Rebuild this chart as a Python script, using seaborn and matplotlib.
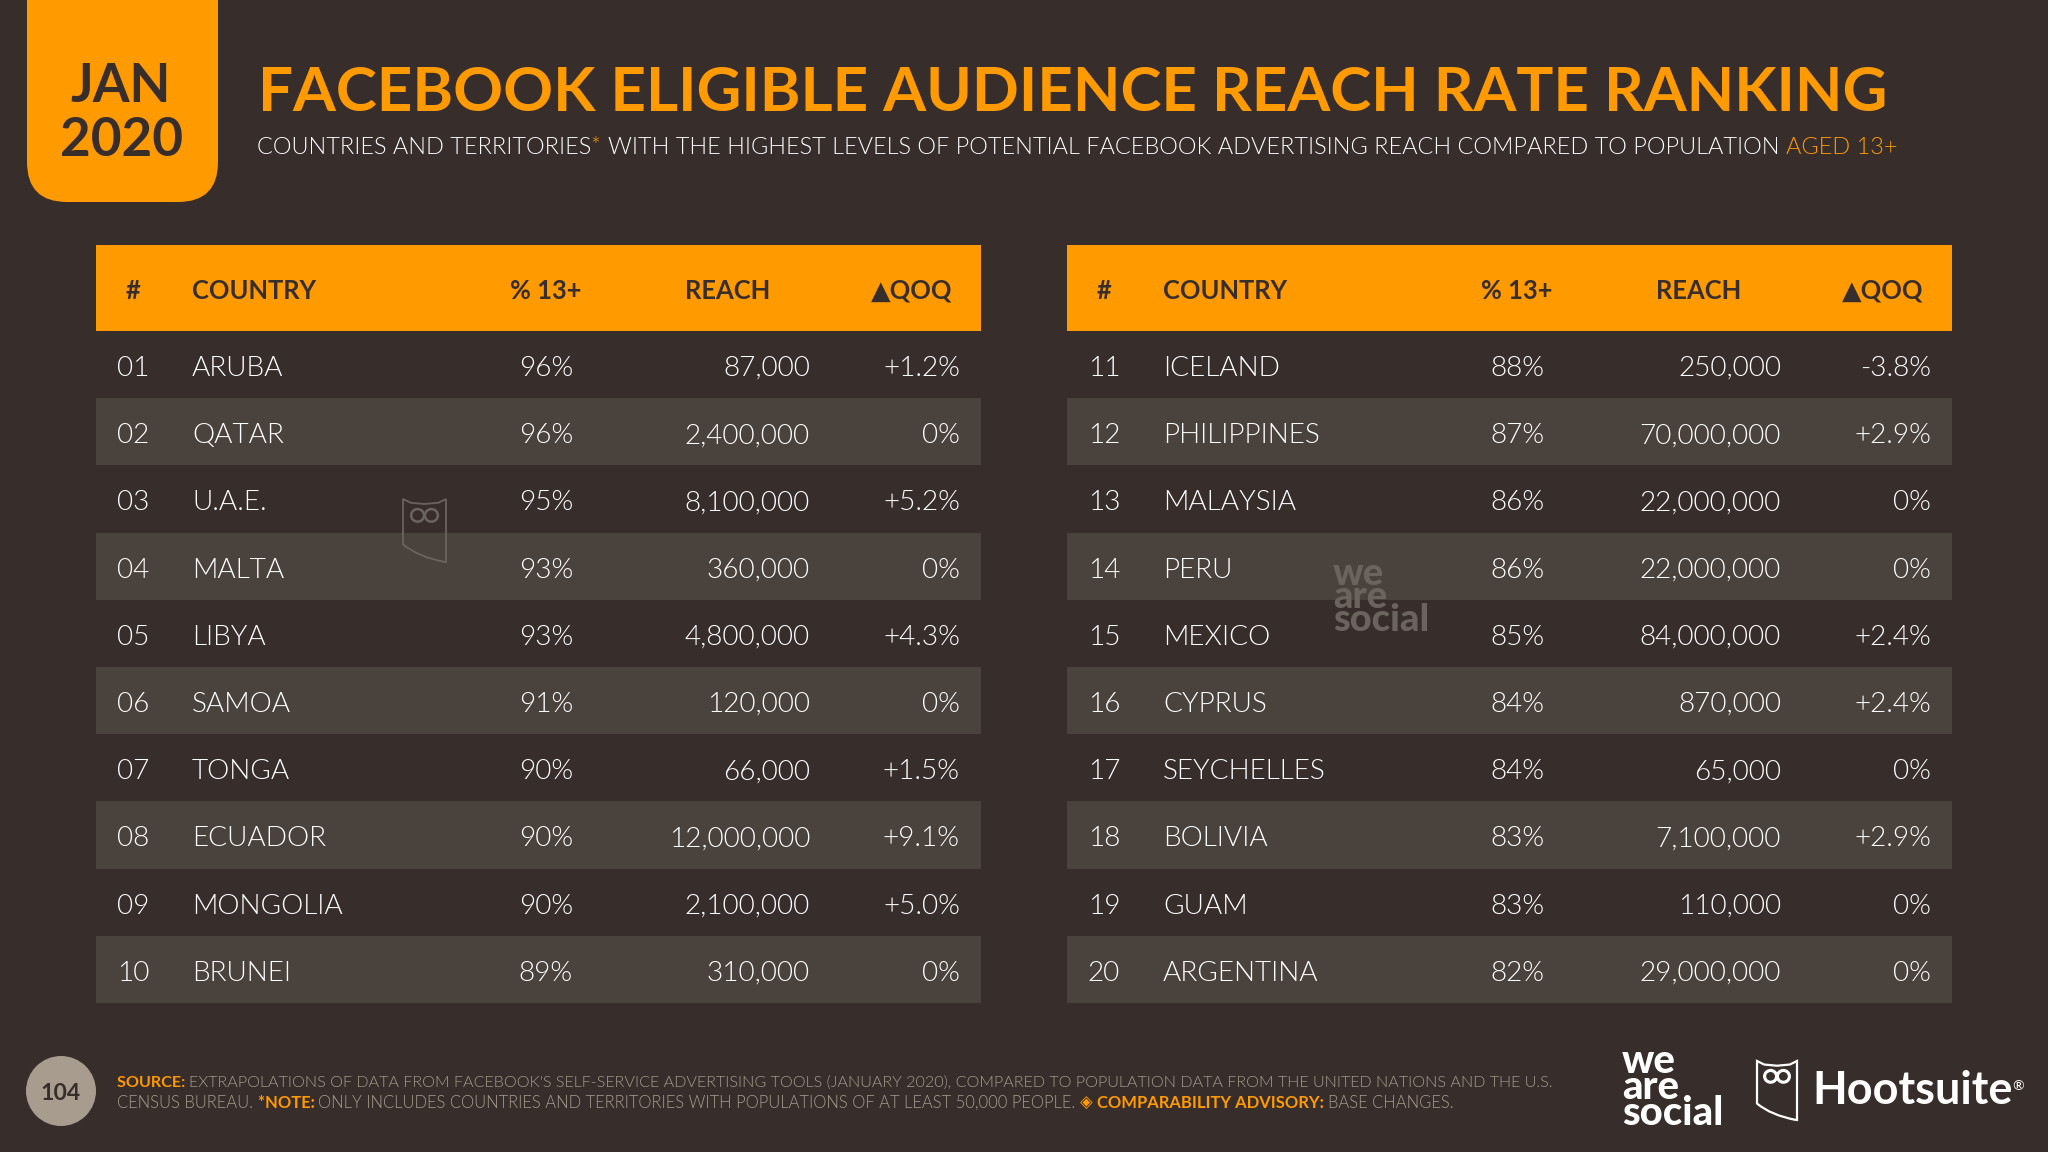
import numpy as np
import matplotlib
matplotlib.use("Agg")
import matplotlib.pyplot as plt
import seaborn as sns
from matplotlib.colors import ListedColormap
from matplotlib.patches import Circle, Ellipse, FancyBboxPatch, PathPatch, Rectangle
from matplotlib.path import Path
from matplotlib.transforms import blended_transform_factory

# table data
ranks_a = ["01", "02", "03", "04", "05", "06", "07", "08", "09", "10"]
countries_a = ["ARUBA", "QATAR", "U.A.E.", "MALTA", "LIBYA", "SAMOA", "TONGA", "ECUADOR", "MONGOLIA", "BRUNEI"]
pct_a = [96, 96, 95, 93, 93, 91, 90, 90, 90, 89]
reach_a = [87000, 2400000, 8100000, 360000, 4800000, 120000, 66000, 12000000, 2100000, 310000]
qoq_a = ["+1.2%", "0%", "+5.2%", "0%", "+4.3%", "0%", "+1.5%", "+9.1%", "+5.0%", "0%"]

ranks_b = ["11", "12", "13", "14", "15", "16", "17", "18", "19", "20"]
countries_b = ["ICELAND", "PHILIPPINES", "MALAYSIA", "PERU", "MEXICO", "CYPRUS", "SEYCHELLES", "BOLIVIA", "GUAM", "ARGENTINA"]
pct_b = [88, 87, 86, 86, 85, 84, 84, 83, 83, 82]
reach_b = [250000, 70000000, 22000000, 22000000, 84000000, 870000, 65000, 7100000, 110000, 29000000]
qoq_b = ["-3.8%", "+2.9%", "0%", "0%", "+2.4%", "+2.4%", "0%", "+2.9%", "0%", "0%"]

BG = "#372e2c"
BAND = "#4a423c"
ORANGE = "#ff9a00"
WHITE = "#ffffff"
GREY = "#a89c8e"
FONT = ["Lato", "DejaVu Sans"]
LIGHT = 300  # "light" would resolve to Lato Thin

sns.set_theme(style="white")
plt.rcParams["font.family"] = FONT

W, H = 2048, 1152
fig = plt.figure(figsize=(W / 100, H / 100), dpi=100, facecolor=BG)
renderer = fig.canvas.get_renderer()


def px_axes(left, top, right, bottom):
    return fig.add_axes([left / W, 1 - bottom / H, (right - left) / W, (bottom - top) / H])


# striped rows come from a one column heatmap
def draw_bands(left, right, n_rows):
    ax = px_axes(left, 331, right, 1003)
    bands = np.arange(n_rows).reshape(-1, 1) % 2
    sns.heatmap(bands, ax=ax, cmap=ListedColormap([BG, BAND]), vmin=0, vmax=1,
                cbar=False, xticklabels=False, yticklabels=False)
    return ax


heat_a = draw_bands(96, 981, len(ranks_a))
heat_b = draw_bands(1067, 1952, len(ranks_b))

# overlay in slide pixels, everything else goes on this
ov = fig.add_axes([0, 0, 1, 1], zorder=5)
ov.set_xlim(0, W)
ov.set_ylim(H, 0)
ov.axis("off")
ov.patch.set_visible(False)


def px(v):
    return v * 0.72


def draw_runs(runs, x, y, width, size):
    # coloured pieces on one line, scaled so the whole line has the given width
    texts = [ov.text(x, y, s, color=c, fontweight=w, fontsize=size, va="baseline", ha="left",
                     family=FONT) for s, c, w in runs]
    total = sum(t.get_window_extent(renderer).width for t in texts)
    scale = width / total
    for t in texts:
        t.set_fontsize(size * scale)
        t.set_x(x)
        x += t.get_window_extent(renderer).width


def draw_owl(x, y, w, h, color, lw):
    verts = [(0, 0), (0.18, 0.06), (0.5, 0.08), (0.82, 0.06), (1, 0), (1, 1), (0.98, 1),
             (0.35, 0.92), (0, 0.72), (0, 0), (0, 0)]
    codes = [Path.MOVETO, Path.LINETO, Path.LINETO, Path.LINETO, Path.LINETO, Path.LINETO, Path.LINETO,
             Path.CURVE3, Path.CURVE3, Path.LINETO, Path.CLOSEPOLY]
    pts = [(x + a * w, y + b * h) for a, b in verts]
    ov.add_patch(PathPatch(Path(pts, codes), fc="none", ec=color, lw=lw))
    for cx in (0.34, 0.66):
        ov.add_patch(Ellipse((x + cx * w, y + 0.26 * h), 0.3 * w, 0.2 * h, fc="none", ec=color, lw=lw * 1.4))


def draw_table(heat, left, right, ranks, countries, pct, reach, qoq):
    ov.add_patch(Rectangle((left, 245), right - left, 86, fc=ORANGE, ec="none"))
    head = dict(color=BG, fontweight="bold", fontsize=px(25.5), va="baseline", family=FONT)
    ov.text(left + 37, 299, "#", ha="center", **head)
    ov.text(left + 96, 299, "COUNTRY", ha="left", **head)
    ov.text(left + 450, 299, "% 13+", ha="center", **head)
    ov.text(left + 632, 299, "REACH", ha="center", **head)
    ov.text(left + 856, 299, "▲QOQ", ha="right", **head)

    tr = blended_transform_factory(ov.transData, heat.transData)
    cell = dict(color=WHITE, fontweight=LIGHT, fontsize=px(28), va="center_baseline", transform=tr, family=FONT)
    for i in range(len(ranks)):
        y = i + 0.52
        ov.text(left + 37, y, ranks[i], ha="center", **cell)
        ov.text(left + 96, y, countries[i], ha="left", **cell)
        ov.text(left + 477, y, f"{pct[i]}%", ha="right", **cell)
        ov.text(left + 714, y, f"{reach[i]:,}", ha="right", **cell)
        ov.text(left + 864, y, qoq[i], ha="right", **cell)


draw_table(heat_a, 96, 981, ranks_a, countries_a, pct_a, reach_a, qoq_a)
draw_table(heat_b, 1067, 1952, ranks_b, countries_b, pct_b, reach_b, qoq_b)

# date tag, top corners run off the slide
ov.add_patch(FancyBboxPatch((27 + 40, -100), 191 - 80, 302 - 40, boxstyle="round,pad=40,rounding_size=40",
                            fc=ORANGE, ec="none", clip_on=True))
ov.text(121, 102, "JAN", color=BG, fontweight="bold", fontsize=px(53), ha="center", va="baseline")
ov.text(122, 156, "2020", color=BG, fontweight="bold", fontsize=px(53), ha="center", va="baseline")

# title and subtitle
draw_runs([("FACEBOOK ELIGIBLE AUDIENCE REACH RATE RANKING", ORANGE, "bold")], 258, 111, 1630, px(60))
draw_runs([("COUNTRIES AND TERRITORIES", WHITE, LIGHT), ("* ", ORANGE, LIGHT),
           ("WITH THE HIGHEST LEVELS OF POTENTIAL FACEBOOK ADVERTISING REACH COMPARED TO POPULATION ", WHITE, LIGHT),
           ("AGED 13+", ORANGE, LIGHT)], 257, 154, 1641, px(26))

# watermarks
mark = "#6b635e"
ov.text(1333, 631, "we\nare\nsocial", color=mark, fontweight="black", fontsize=px(38), ha="left",
        va="baseline", linespacing=0.6)
draw_owl(403, 499, 43, 63, mark, 1.3)

# footer
ov.add_patch(Circle((61, 1091), 35, fc=GREY, ec="none"))
ov.text(61, 1091, "104", color=BG, fontweight="bold", fontsize=px(23), ha="center", va="center_baseline")
draw_runs([("SOURCE: ", ORANGE, "bold"),
           ("EXTRAPOLATIONS OF DATA FROM FACEBOOK'S SELF-SERVICE ADVERTISING TOOLS (JANUARY 2020), COMPARED TO "
            "POPULATION DATA FROM THE UNITED NATIONS AND THE U.S.", GREY, LIGHT)], 117, 1087, 1436, px(17))
draw_runs([("CENSUS BUREAU. ", GREY, LIGHT), ("*NOTE: ", ORANGE, "bold"),
           ("ONLY INCLUDES COUNTRIES AND TERRITORIES WITH POPULATIONS OF AT LEAST 50,000 PEOPLE. ", GREY, LIGHT),
           ("◈ ", ORANGE, "normal"), ("COMPARABILITY ADVISORY: ", ORANGE, "bold"),
           ("BASE CHANGES.", GREY, LIGHT)], 117, 1108, 1335, px(17))

# logos
ov.text(1622, 1125, "we\nare\nsocial", color=WHITE, fontweight="black", fontsize=px(40), ha="left",
        va="baseline", linespacing=0.63)
draw_owl(1757, 1061, 40, 59, WHITE, 1.6)
ov.text(1812, 1104, "Hootsuite", color=WHITE, fontweight="bold", fontsize=px(45), ha="left", va="baseline")
ov.text(2012, 1090, "®", color=WHITE, fontsize=px(14), ha="left", va="baseline")

fig.savefig("out.png", dpi=100, facecolor=BG)
